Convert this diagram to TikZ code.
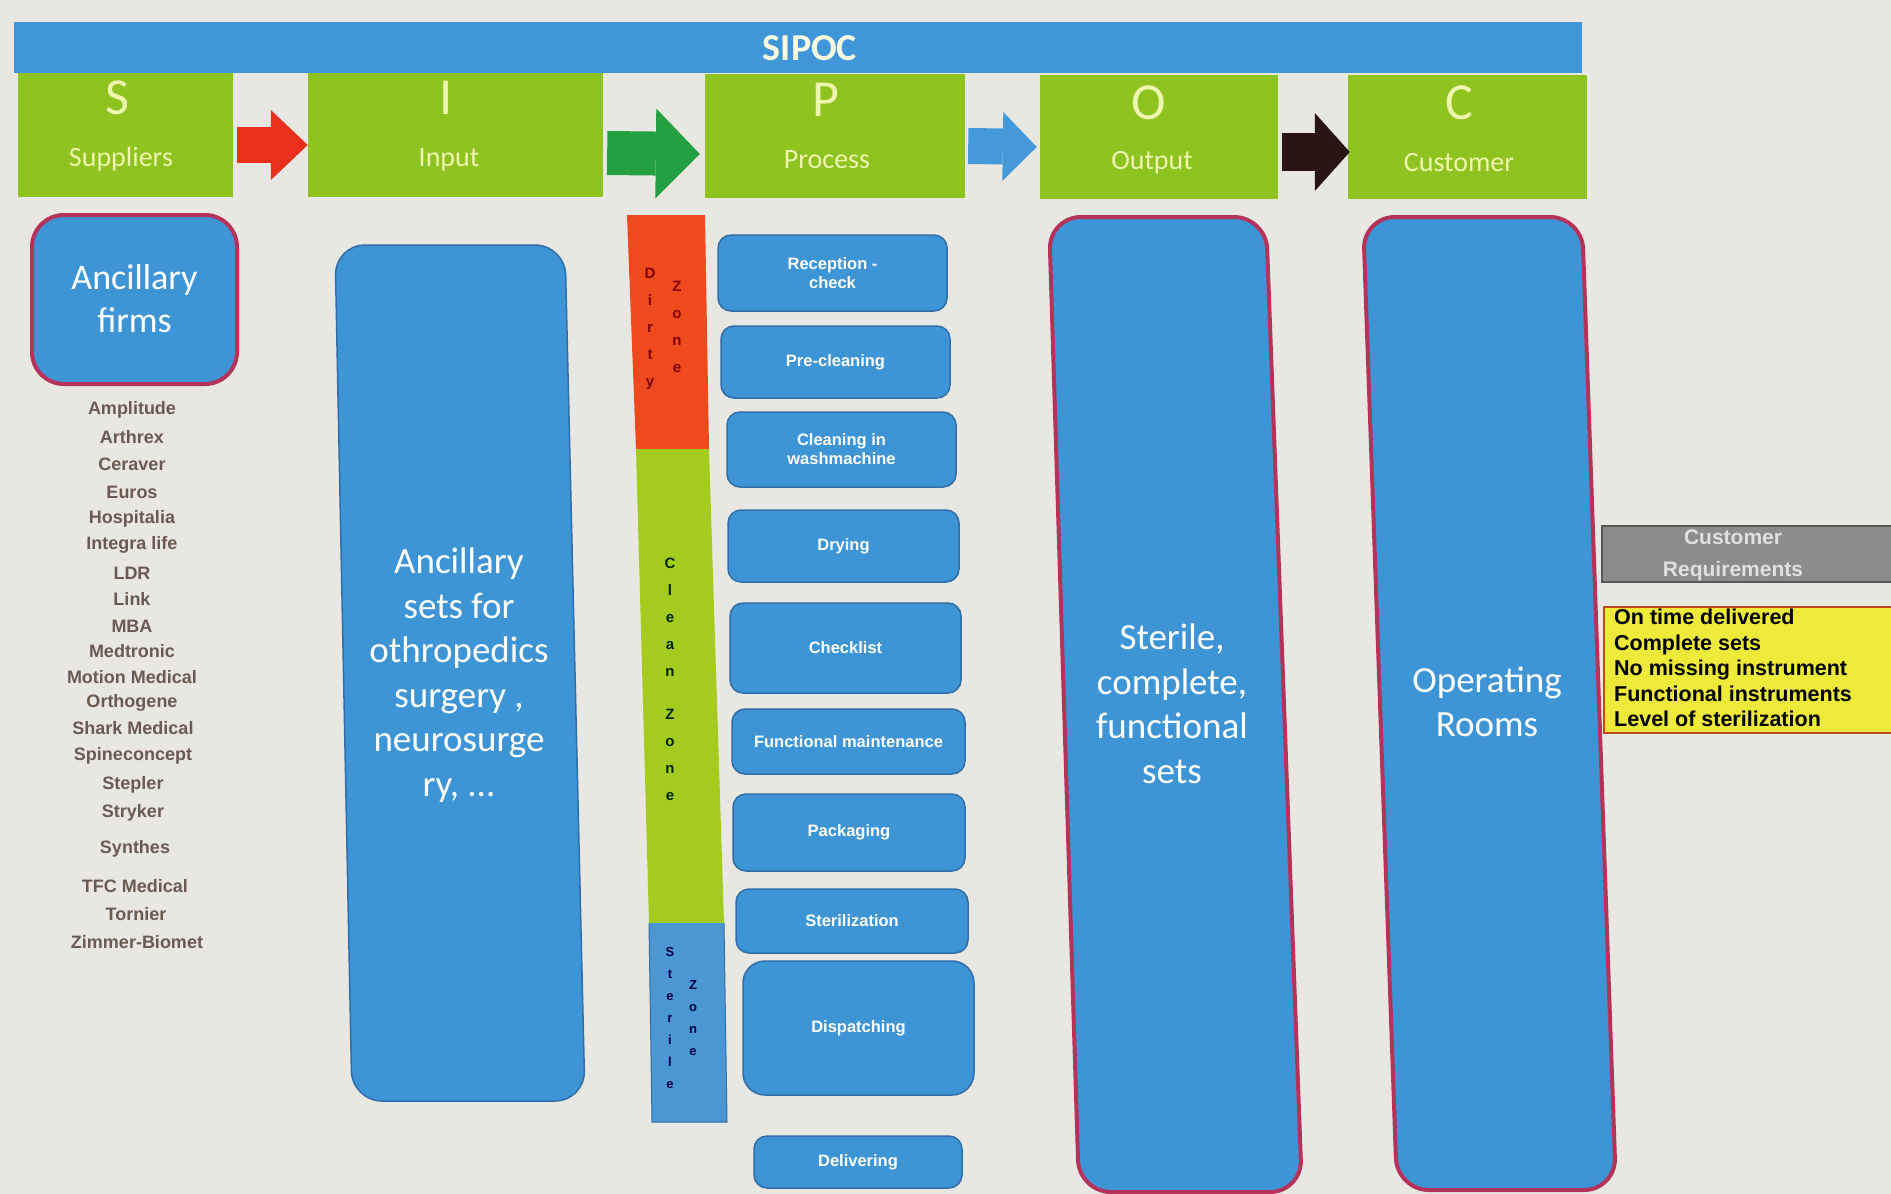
\documentclass[tikz,border=0pt]{standalone}
\usepackage{fontspec}
\setmainfont{Carlito}
\newfontfamily\widesans{Liberation Sans}
\usetikzlibrary{arrows.meta}

\definecolor{bg}{HTML}{E9E7E2}
\definecolor{barblue}{HTML}{3F97D9}
\definecolor{hdrgreen}{HTML}{8FC31F}
\definecolor{hdrtext}{HTML}{EEF6B0}
\definecolor{boxblue}{HTML}{3E95D6}
\definecolor{boxedge}{HTML}{2F6EA8}
\definecolor{crimson}{HTML}{B5325A}
\definecolor{zonered}{HTML}{EE4A1C}
\definecolor{zonegreen}{HTML}{A3CC1F}
\definecolor{zoneblue}{HTML}{4A97D4}
\definecolor{listtext}{HTML}{6B5A50}
\definecolor{reqgray}{HTML}{8C8C8C}
\definecolor{reqyellow}{HTML}{EEEA3A}
\definecolor{reqedge}{HTML}{C04A20}
\definecolor{arrred}{HTML}{E8301C}
\definecolor{arrgreen}{HTML}{24A040}
\definecolor{arrblue}{HTML}{4499D8}
\definecolor{arrdark}{HTML}{2A1414}

\begin{document}
\begin{tikzpicture}[x=1pt,y=-1pt,
  hdr/.style={fill=hdrgreen, inner sep=0pt, minimum height=124},
  hletter/.style={text=hdrtext, font=\fontsize{52}{54}\selectfont, inner sep=0pt},
  hword/.style={text=hdrtext, font=\fontsize{28}{30}\selectfont, inner sep=0pt},
  bigbox/.style={fill=boxblue, draw=crimson, line width=4pt, rounded corners=32pt},
  inbox/.style={fill=boxblue, draw=boxedge, line width=1.5pt, rounded corners=30pt},
  bigtext/.style={text=white, align=center, font=\fontsize{37}{44.5}\selectfont, inner sep=0pt},
  stepbox/.style={fill=boxblue, draw=boxedge, line width=1.5pt, rounded corners=13pt, inner sep=0pt,
    text=white, align=center, font=\widesans\bfseries\fontsize{16.5}{19}\selectfont},
  firm/.style={text=listtext, font=\widesans\bfseries\fontsize{18}{19}\selectfont, inner sep=0pt},
  zoneletters/.style={align=center, inner sep=0pt, font=\widesans\bfseries\fontsize{15}{27}\selectfont},
  req/.style={text=black, font=\widesans\bfseries\fontsize{21.5}{25.5}\selectfont, align=left, inner sep=0pt, anchor=north west}
]
\useasboundingbox (0,0) rectangle (1891,1194);
\fill[bg] (0,0) rectangle (1891,1194);

% title bar
\node[fill=barblue, minimum width=1568, minimum height=51, inner sep=0pt] (bar) at (798,47.5) {};
\node[text=hdrtext!40!white, font=\bfseries\fontsize{38}{40}\selectfont, inner sep=0pt] (title) at (810,48) {SIPOC};

% SIPOC header blocks
\node[hdr, minimum width=215] (S) at (125.5,135) {};
\node[hdr, minimum width=295] (I) at (455.5,135) {};
\node[hdr, minimum width=260] (P) at (835,136) {};
\node[hdr, minimum width=238] (O) at (1159,137) {};
\node[hdr, minimum width=239] (C) at (1467.5,137) {};

\node[hletter] (Sl) at (117,98) {S};
\node[hletter] (Il) at (446,98) {I};
\node[hletter] (Pl) at (826,100) {P};
\node[hletter] (Ol) at (1149,103) {O};
\node[hletter] (Cl) at (1459,103) {C};
\node[hword] (Sw) at (121,159) {Suppliers};
\node[hword] (Iw) at (449,160) {Input};
\node[hword] (Pw) at (827,160) {Process};
\node[hword] (Ow) at (1152,163) {Output};
\node[hword] (Cw) at (1459,163) {Customer};

% arrows between the blocks
\draw[arrred, line width=36pt, -{Triangle[length=37pt,width=70pt,line width=0pt]}]
  ([xshift=4pt,yshift=-10pt]S.east) -- ([yshift=-10pt]I.west);
\draw[arrgreen, line width=44pt, -{Triangle[length=44pt,width=90pt,line width=0pt]}]
  ([xshift=4pt,yshift=-18pt]I.east) -- ([xshift=-5pt,yshift=-18pt]P.west);
\draw[arrblue, line width=36pt, -{Triangle[length=34pt,width=69pt,line width=0pt]}]
  ([xshift=3pt,yshift=-10pt]P.east) -- ([xshift=-3pt,yshift=-10pt]O.west);
\draw[arrdark, line width=38pt, -{Triangle[length=35pt,width=78pt,line width=0pt]}]
  ([xshift=4pt,yshift=-15pt]O.east) -- ([xshift=2pt,yshift=-15pt]C.west);

% suppliers
\node[bigbox, inner sep=0pt, minimum width=205, minimum height=169] (firms) at (134.5,299.5) {};
\node[bigtext, font=\fontsize{36}{43}\selectfont] (firmst) at (134.5,299) {Ancillary\\firms};
\node[firm] (f1) at (132,410) {Amplitude};
\node[firm] (f2) at (132,437) {Arthrex};
\node[firm] (f3) at (132,464) {Ceraver};
\node[firm] (f4) at (132,492) {Euros};
\node[firm] (f5) at (132,519) {Hospitalia};
\node[firm] (f6) at (132,545) {Integra life};
\node[firm] (f7) at (132,573) {LDR};
\node[firm] (f8) at (132,599) {Link};
\node[firm] (f9) at (132,626) {MBA};
\node[firm] (f10) at (132,651) {Medtronic};
\node[firm] (f11) at (132,677) {Motion Medical};
\node[firm] (f12) at (132,703) {Orthogene};
\node[firm] (f13) at (133,728) {Shark Medical};
\node[firm] (f14) at (133,756) {Spineconcept};
\node[firm] (f15) at (133,785) {Stepler};
\node[firm] (f16) at (133,813) {Stryker};
\node[firm] (f17) at (135,849) {Synthes};
\node[firm] (f18) at (135,886) {TFC Medical};
\node[firm] (f19) at (136,914) {Tornier};
\node[firm] (f20) at (137,942) {Zimmer-Biomet};

% input (slightly leaning column)
\draw[inbox] (450,245) -- (565,245) -- (585,1101) -- (352,1101) -- (335,245) -- cycle;
\node[bigtext] (inputt) at (459,675) {Ancillary\\sets for\\othropedics\\surgery ,\\neurosurge\\ry, ...};

% hygiene zones
\fill[zonered] (627,215) -- (705,215) -- (709,449) -- (636,449) -- cycle;
\fill[zonegreen] (636,449) -- (709,449) -- (724,923) -- (649,923) -- cycle;
\fill[zoneblue] (649,923) -- (724,923) -- (727,1122) -- (652,1122) -- cycle;
\draw[boxedge, line width=1pt] (649,923) -- (652,1122) -- (727,1122) -- (724,923);
\node[zoneletters, text=red!50!black, anchor=north] (dz1) at (650,268) {D\\i\\r\\t\\y};
\node[zoneletters, text=red!50!black, anchor=north] (dz2) at (677,281) {Z\\o\\n\\e};
\node[zoneletters, text=green!15!black, anchor=north] (cz) at (670,558) {C\\l\\e\\a\\n\\[16pt]Z\\o\\n\\e};
\node[zoneletters, text=blue!25!black, font=\widesans\bfseries\fontsize{13}{22}\selectfont, anchor=north] (sz1) at (670,947) {S\\t\\e\\r\\i\\l\\e};
\node[zoneletters, text=blue!25!black, font=\widesans\bfseries\fontsize{13}{22}\selectfont, anchor=north] (sz2) at (693,980) {Z\\o\\n\\e};

% process steps
\node[stepbox, minimum width=229, minimum height=76] (p1) at (832.5,273) {Reception -\\check};
\node[stepbox, minimum width=229, minimum height=72] (p2) at (835.5,362) {Pre-cleaning};
\node[stepbox, minimum width=229, minimum height=75] (p3) at (841.5,449.5) {Cleaning in\\washmachine};
\node[stepbox, minimum width=231, minimum height=72] (p4) at (843.5,546) {Drying};
\node[stepbox, minimum width=231, minimum height=90] (p5) at (845.5,648) {Checklist};
\node[stepbox, minimum width=233, minimum height=65] (p6) at (848.5,741.5) {Functional maintenance};
\node[stepbox, minimum width=232, minimum height=77] (p7) at (849,832.5) {Packaging};
\node[stepbox, minimum width=232, minimum height=64] (p8) at (852,921) {Sterilization};
\node[stepbox, minimum width=231, minimum height=134, rounded corners=22pt] (p9) at (858.5,1028) {Dispatching};
\node[stepbox, minimum width=208, minimum height=52] (p10) at (858,1162) {Delivering};

% output (leaning column)
\draw[bigbox] (1158,217) -- (1266,217) -- (1302,1192) -- (1079,1192) -- (1049,217) -- cycle;
\node[bigtext] (outputt) at (1172,704) {Sterile,\\complete,\\functional\\sets};

% customer (leaning column)
\draw[bigbox] (1472,217) -- (1582,217) -- (1616,1190) -- (1397,1190) -- (1363,217) -- cycle;
\node[bigtext] (custt) at (1487,702) {Operating\\Rooms};

% customer requirements
\node[fill=reqgray, draw=black!65, line width=2pt, minimum width=300, minimum height=56, inner sep=0pt] (reqh) at (1752,554) {};
\node[text=black!12, font=\widesans\bfseries\fontsize{21}{32}\selectfont, align=center, inner sep=0pt] (reqht) at (1733,555) {Customer\\Requirements};
\node[fill=reqyellow, draw=reqedge, line width=2.5pt, minimum width=300, minimum height=126, inner sep=0pt] (reqb) at (1754,670) {};
\node[req] (reqt) at (1614,609) {On time delivered\\Complete sets\\No missing instrument\\Functional instruments\\Level of sterilization};
\end{tikzpicture}
\end{document}
